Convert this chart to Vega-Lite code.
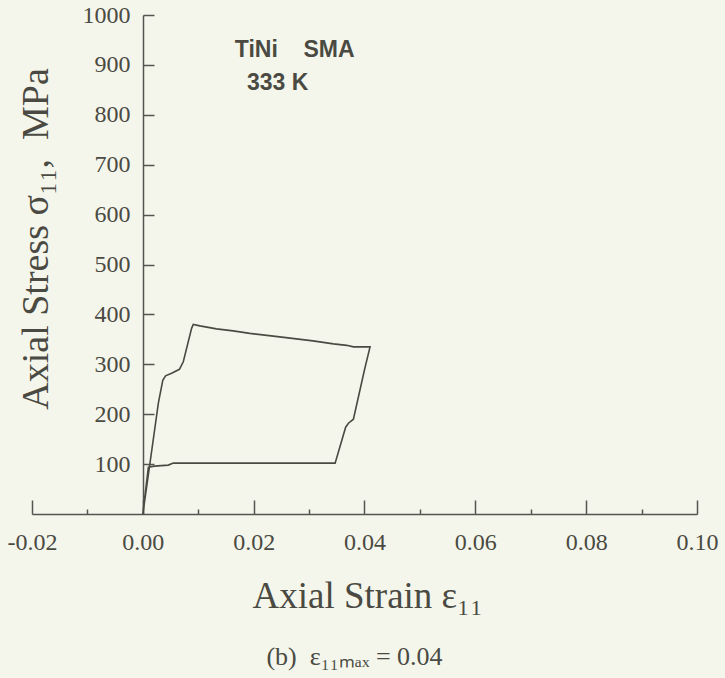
{
  "$schema": "https://vega.github.io/schema/vega-lite/v6.json",
  "width": 665,
  "height": 499,
  "autosize": {"type": "none"},
  "padding": {"left": 32, "top": 15, "right": 28, "bottom": 164},
  "background": "#f4f6ec",
  "config": {"view": {"stroke": null}, "axis": {"grid": false}},
  "title": {
    "text": "(b)\u00a0\u00a0ε₁₁ₘₐₓ = 0.04",
    "orient": "bottom",
    "anchor": "middle",
    "font": "Liberation Serif",
    "fontSize": 26,
    "fontWeight": "normal",
    "color": "#4a4a42",
    "offset": 30,
    "dx": -10
  },
  "datasets": {
    "curve": [
      {"step": 0, "strain": 0.0, "stress": 0},
      {"step": 1, "strain": 0.0012, "stress": 95},
      {"step": 2, "strain": 0.0028, "stress": 222},
      {"step": 3, "strain": 0.0036, "stress": 268},
      {"step": 4, "strain": 0.0041, "stress": 277},
      {"step": 5, "strain": 0.0052, "stress": 282},
      {"step": 6, "strain": 0.0066, "stress": 290},
      {"step": 7, "strain": 0.0073, "stress": 305},
      {"step": 8, "strain": 0.0088, "stress": 372},
      {"step": 9, "strain": 0.0091, "stress": 380},
      {"step": 10, "strain": 0.0103, "stress": 377},
      {"step": 11, "strain": 0.0133, "stress": 371},
      {"step": 12, "strain": 0.0163, "stress": 367},
      {"step": 13, "strain": 0.0193, "stress": 362},
      {"step": 14, "strain": 0.0247, "stress": 355},
      {"step": 15, "strain": 0.0307, "stress": 347},
      {"step": 16, "strain": 0.0344, "stress": 341},
      {"step": 17, "strain": 0.0368, "stress": 338},
      {"step": 18, "strain": 0.038, "stress": 335},
      {"step": 19, "strain": 0.041, "stress": 335},
      {"step": 20, "strain": 0.04, "stress": 289},
      {"step": 21, "strain": 0.038, "stress": 190},
      {"step": 22, "strain": 0.0371, "stress": 182},
      {"step": 23, "strain": 0.0366, "stress": 174},
      {"step": 24, "strain": 0.0347, "stress": 102},
      {"step": 25, "strain": 0.02, "stress": 102},
      {"step": 26, "strain": 0.0055, "stress": 102},
      {"step": 27, "strain": 0.0046, "stress": 98},
      {"step": 28, "strain": 0.0021, "stress": 96},
      {"step": 29, "strain": 0.001, "stress": 94},
      {"step": 30, "strain": 0.0002, "stress": 20},
      {"step": 31, "strain": 0.0, "stress": 0}
    ],
    "notes": [
      {"x": 0.0166, "y": 916, "label": "TiNi\u00a0\u00a0\u00a0\u00a0SMA"},
      {"x": 0.0188, "y": 850, "label": "333\u00a0K"}
    ]
  },
  "layer": [
    {
      "data": {"name": "curve"},
      "mark": {"type": "line", "color": "#4a4a42", "strokeWidth": 1.6},
      "encoding": {
        "x": {
          "field": "strain",
          "type": "quantitative",
          "scale": {"domain": [-0.02, 0.1], "nice": false, "zero": false},
          "axis": {
            "orient": "bottom",
            "values": [-0.02, 0, 0.02, 0.04, 0.06, 0.08, 0.1],
            "format": ".2f",
            "labelExpr": "replace(datum.label, '−', '-')",
            "tickSize": -14,
            "tickWidth": 1.5,
            "tickColor": "#555550",
            "domainColor": "#555550",
            "domainWidth": 1.5,
            "labelPadding": 30,
            "labelFont": "Liberation Serif",
            "labelFontSize": 24,
            "labelColor": "#4a4a42",
            "labelFlush": false,
            "labelOverlap": false,
            "title": "Axial Strain ε₁₁",
            "titleFont": "Liberation Serif",
            "titleFontSize": 37,
            "titleFontWeight": "normal",
            "titleColor": "#4a4a42",
            "titleAlign": "left",
            "titleBaseline": "alphabetic",
            "titleX": 220,
            "titleY": 93
          }
        },
        "y": {
          "field": "stress",
          "type": "quantitative",
          "scale": {"domain": [0, 1000], "nice": false},
          "axis": {
            "values": [100, 200, 300, 400, 500, 600, 700, 800, 900, 1000],
            "format": "d",
            "offset": -111,
            "tickSize": -11,
            "tickWidth": 1.5,
            "tickColor": "#555550",
            "domainColor": "#555550",
            "domainWidth": 1.5,
            "labelPadding": 24,
            "labelFont": "Liberation Serif",
            "labelFontSize": 24,
            "labelColor": "#4a4a42",
            "labelFlush": false,
            "labelOverlap": false,
            "title": "Axial Stress σ₁₁,\u00a0\u00a0MPa",
            "titleFont": "Liberation Serif",
            "titleFontSize": 38,
            "titleFontWeight": "normal",
            "titleColor": "#4a4a42",
            "titleAngle": 270,
            "titleAlign": "center",
            "titleBaseline": "alphabetic",
            "titleX": -96,
            "titleY": 223.5
          }
        },
        "order": {"field": "step", "type": "quantitative"}
      }
    },
    {
      "data": {"name": "notes"},
      "mark": {
        "type": "text",
        "font": "Liberation Sans",
        "fontSize": 23,
        "fontWeight": "bold",
        "color": "#4a4a42",
        "align": "left",
        "baseline": "alphabetic"
      },
      "encoding": {
        "x": {
          "field": "x",
          "type": "quantitative",
          "axis": {
            "orient": "bottom",
            "values": [-0.01, 0.01, 0.03, 0.05, 0.07, 0.09],
            "tickSize": -5,
            "tickWidth": 1.5,
            "tickColor": "#555550",
            "labels": false,
            "domain": false,
            "title": null
          }
        },
        "y": {"field": "y", "type": "quantitative", "axis": null},
        "text": {"field": "label", "type": "nominal"}
      }
    }
  ],
  "resolve": {"axis": {"x": "independent", "y": "independent"}}
}
